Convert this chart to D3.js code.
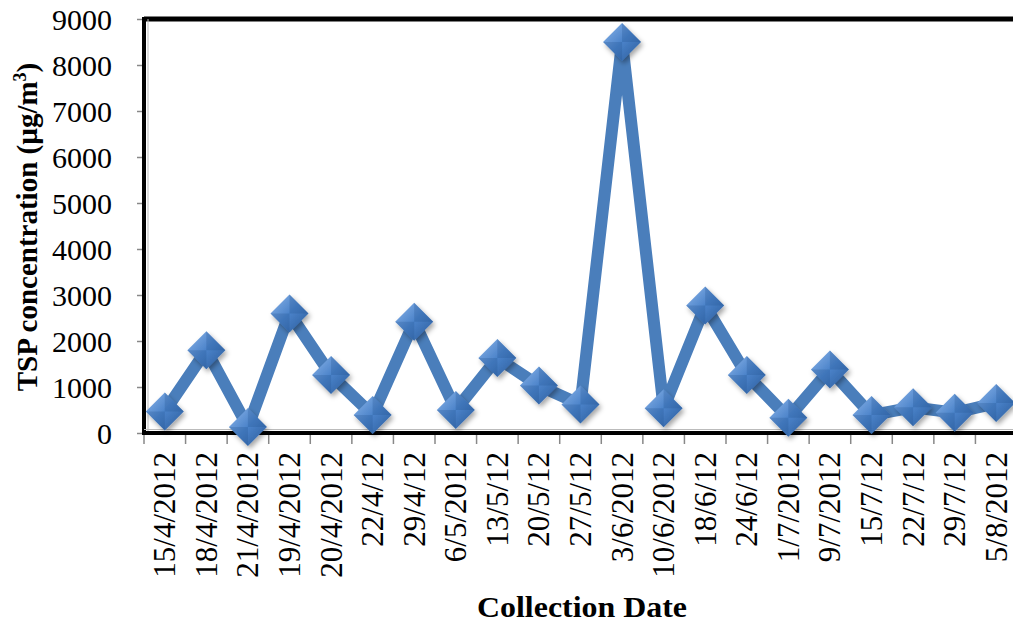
<!DOCTYPE html>
<html><head><meta charset="utf-8">
<script src="https://cdn.jsdelivr.net/npm/d3@7"></script>
<style>body{margin:0;background:#fff}svg{display:block}</style>
</head><body>
<svg id="c" width="1013" height="626"></svg>
<script>
const dates = ["15/4/2012","18/4/2012","21/4/2012","19/4/2012","20/4/2012","22/4/12","29/4/12","6/5/2012","13/5/12","20/5/12","27/5/12","3/6/2012","10/6/2012","18/6/12","24/6/12","1/7/2012","9/7/2012","15/7/12","22/7/12","29/7/12","5/8/2012"];
const tsp = [470,1800,130,2600,1260,390,2420,500,1630,1030,620,8500,540,2770,1260,330,1380,390,560,440,650];
const yTicks = [0,1000,2000,3000,4000,5000,6000,7000,8000,9000];

const FONT = "'Liberation Serif', 'Times New Roman', serif";
const svg = d3.select("#c");
const L = 144, R = 1017, T = 19, B = 433;
const x = d3.scaleBand().domain(dates).range([L, R]);
const y = d3.scaleLinear().domain([0, 9000]).range([B, T]);

const defs = svg.append("defs");
const g1 = defs.append("linearGradient").attr("id","dg").attr("x1","0").attr("y1","0").attr("x2","1").attr("y2","1");
g1.append("stop").attr("offset","0").attr("stop-color","#8db6ea");
g1.append("stop").attr("offset","0.5").attr("stop-color","#4a82c9");
g1.append("stop").attr("offset","1").attr("stop-color","#2a5a99");
const f = defs.append("filter").attr("id","sh").attr("x","-50%").attr("y","-50%").attr("width","200%").attr("height","200%");
f.append("feDropShadow").attr("dx",2).attr("dy",3).attr("stdDeviation",2.5).attr("flood-color","#000").attr("flood-opacity",0.35);

// axes
const yAxis = svg.append("g").attr("transform",`translate(${L},0)`)
  .call(d3.axisLeft(y).tickValues(yTicks).tickSize(7).tickPadding(25).tickFormat(d3.format("d")));
yAxis.select(".domain").remove();
yAxis.selectAll("line").attr("stroke","#888").attr("stroke-width",1.5);
yAxis.selectAll("text").attr("font-family",FONT).attr("font-size",30).attr("fill","#000").attr("dy","0.34em");

const xAxis = svg.append("g").attr("transform",`translate(0,${B})`)
  .call(d3.axisBottom(x).tickSize(0).tickPadding(0));
xAxis.select(".domain").remove();
xAxis.selectAll(".tick text")
  .attr("font-family",FONT).attr("font-size",31).attr("fill","#000")
  .attr("transform","rotate(-90)").attr("text-anchor","end").attr("x",-19).attr("y",0).attr("dy","0.34em");
// tick marks at band boundaries
svg.append("g").selectAll("line").data(d3.range(dates.length + 1)).join("line")
  .attr("x1", i => L + i * x.step()).attr("x2", i => L + i * x.step())
  .attr("y1", B).attr("y2", B + 11).attr("stroke","#888").attr("stroke-width",1.5);

// frame
svg.append("line").attr("x1",L).attr("x2",1013).attr("y1",T).attr("y2",T).attr("stroke","#000").attr("stroke-width",5);
svg.append("line").attr("x1",L).attr("x2",L).attr("y1",T-2).attr("y2",B+2).attr("stroke","#000").attr("stroke-width",4);
svg.append("line").attr("x1",L+4).attr("x2",L+4).attr("y1",T).attr("y2",B).attr("stroke","#bbb").attr("stroke-width",1);
svg.append("line").attr("x1",L).attr("x2",1013).attr("y1",B).attr("y2",B).attr("stroke","#000").attr("stroke-width",4);
svg.append("line").attr("x1",L).attr("x2",1013).attr("y1",B-3.5).attr("y2",B-3.5).attr("stroke","#bbb").attr("stroke-width",1);

// line
const cx = d => x(d) + x.bandwidth() / 2;
svg.append("path").datum(dates.map((d,i)=>[cx(d), y(tsp[i])]))
  .attr("d", d3.line()).attr("fill","none").attr("stroke","#4a7ebb").attr("stroke-width",12)
  .attr("stroke-linejoin","miter").attr("stroke-miterlimit",2.5);

// markers
const s = 19;
svg.append("g").selectAll("path").data(dates).join("path")
  .attr("transform",(d,i)=>`translate(${cx(d)},${y(tsp[i])})`)
  .attr("d",`M0,${-s}L${s},0L0,${s}L${-s},0Z`)
  .attr("fill","url(#dg)").attr("filter","url(#sh)");
svg.append("g").selectAll("path").data(dates).join("path")
  .attr("transform",(d,i)=>`translate(${cx(d)},${y(tsp[i])})`)
  .attr("d",`M0,${-s}L${s},0L0,0Z M0,0L0,${s}L${-s},0Z`)
  .attr("fill","#1f4e8c").attr("opacity",0.25);

// titles
svg.append("text").attr("x",582).attr("y",617).attr("text-anchor","middle")
  .attr("font-family",FONT).attr("font-weight","bold").attr("font-size",30)
  .attr("textLength",210).attr("lengthAdjust","spacingAndGlyphs").text("Collection Date");
const yt = svg.append("text").attr("transform","translate(37,227) rotate(-90)").attr("text-anchor","middle")
  .attr("font-family",FONT).attr("font-weight","bold").attr("font-size",29);
yt.append("tspan").text("TSP concentration (µg/m");
yt.append("tspan").attr("font-size",18).attr("dy",-11).text("3");
yt.append("tspan").attr("dy",11).text(")");
</script>
</body></html>
